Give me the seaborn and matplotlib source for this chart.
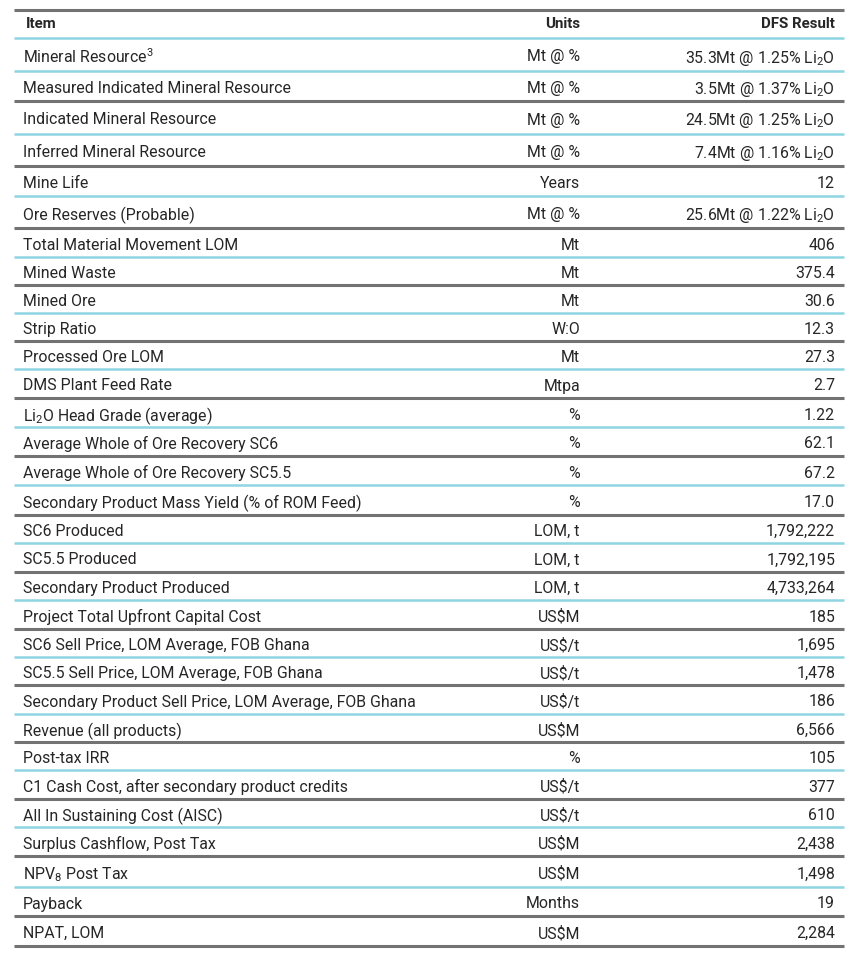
import numpy as np
import matplotlib
matplotlib.use('Agg')
import matplotlib.pyplot as plt
import seaborn as sns

sns.set_theme(style='white')
plt.rcParams['font.family'] = ['Roboto', 'DejaVu Sans']
plt.rcParams['mathtext.fontset'] = 'custom'
plt.rcParams['mathtext.rm'] = 'Roboto'
plt.rcParams['mathtext.it'] = 'Roboto'
plt.rcParams['mathtext.bf'] = 'Roboto:bold'

# 표 데이터
headers = ['Item', 'Units', 'DFS Result']

items = [
    'Mineral Resource$^3$',
    'Measured Indicated Mineral Resource',
    'Indicated Mineral Resource',
    'Inferred Mineral Resource',
    'Mine Life',
    'Ore Reserves (Probable)',
    'Total Material Movement LOM',
    'Mined Waste',
    'Mined Ore',
    'Strip Ratio',
    'Processed Ore LOM',
    'DMS Plant Feed Rate',
    'Li$_2$O Head Grade (average)',
    'Average Whole of Ore Recovery SC6',
    'Average Whole of Ore Recovery SC5.5',
    'Secondary Product Mass Yield (% of ROM Feed)',
    'SC6 Produced',
    'SC5.5 Produced',
    'Secondary Product Produced',
    'Project Total Upfront Capital Cost',
    'SC6 Sell Price, LOM Average, FOB Ghana',
    'SC5.5 Sell Price, LOM Average, FOB Ghana',
    'Secondary Product Sell Price, LOM Average, FOB Ghana',
    'Revenue (all products)',
    'Post-tax IRR',
    'C1 Cash Cost, after secondary product credits',
    'All In Sustaining Cost (AISC)',
    'Surplus Cashflow, Post Tax',
    'NPV$_8$ Post Tax',
    'Payback',
    'NPAT, LOM',
]

units = [
    'Mt @ %', 'Mt @ %', 'Mt @ %', 'Mt @ %', 'Years', 'Mt @ %', 'Mt', 'Mt',
    'Mt', 'W:O', 'Mt', 'Mtpa', '%', '%', '%', '%', 'LOM, t', 'LOM, t',
    'LOM, t', 'US\\$M', 'US\\$/t', 'US\\$/t', 'US\\$/t', 'US\\$M', '%',
    'US\\$/t', 'US\\$/t', 'US\\$M', 'US\\$M', 'Months', 'US\\$M',
]

results = [
    '35.3Mt @ 1.25% Li$_2$O',
    '3.5Mt @ 1.37% Li$_2$O',
    '24.5Mt @ 1.25% Li$_2$O',
    '7.4Mt @ 1.16% Li$_2$O',
    '12',
    '25.6Mt @ 1.22% Li$_2$O',
    '406', '375.4', '30.6', '12.3', '27.3', '2.7', '1.22', '62.1', '67.2',
    '17.0', '1,792,222', '1,792,195', '4,733,264', '185', '1,695', '1,478',
    '186', '6,566', '105', '377', '610', '2,438', '1,498', '19', '2,284',
]

# 레이아웃 (픽셀 단위 구분선 위치)
rule_y = [10, 38, 71, 101, 134, 166, 196, 228, 257, 285, 313, 341, 369,
          398, 427, 456, 485, 515, 543, 572, 600, 629, 657, 685, 714, 742,
          770, 799, 827, 856, 887, 916, 946]

GREY = '#727272'
CYAN = '#8fd4e2'
TXT = '#262626'

W, H = 852, 965
fig = plt.figure(figsize=(W / 100, H / 100), dpi=100)
ax = fig.add_axes([0, 0, 1, 1])
ax.set_xlim(0, W)
ax.set_ylim(H, 0)
ax.axis('off')

x0, x1 = 14, 844
x_item, x_unit, x_res = 23, 580, 835
FS = 11.4

# 구분선
n = len(items)
colors = [GREY, CYAN] + [CYAN if i % 2 == 0 else GREY for i in range(n - 1)] + [GREY]
for y, c in zip(rule_y, colors):
    lw = 2.2 if c == GREY else 1.8
    ax.hlines(y, x0, x1, color=c, lw=lw)

# 헤더
hy = (rule_y[0] + rule_y[1]) / 2
ax.text(x_item + 3, hy, headers[0], ha='left', va='center', fontsize=10.8,
        fontweight='bold', color=TXT)
ax.text(x_unit, hy, headers[1], ha='right', va='center', fontsize=10.8,
        fontweight='bold', color=TXT)
ax.text(x_res, hy, headers[2], ha='right', va='center', fontsize=10.8,
        fontweight='bold', color=TXT)

# 본문
for i in range(n):
    yc = (rule_y[i + 1] + rule_y[i + 2]) / 2 + 1
    ax.text(x_item, yc, items[i], ha='left', va='center_baseline', fontsize=FS, color=TXT)
    ax.text(x_unit, yc, units[i], ha='right', va='center_baseline', fontsize=FS, color=TXT)
    ax.text(x_res, yc, results[i], ha='right', va='center_baseline', fontsize=FS, color=TXT)

plt.savefig('out.png', dpi=100)
plt.close()
